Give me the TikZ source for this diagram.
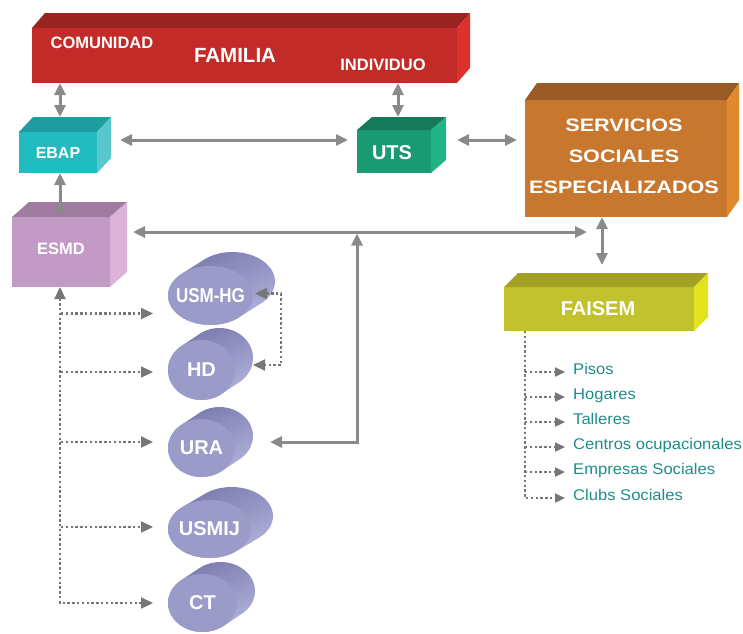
\documentclass[tikz,border=0pt]{standalone}
\usepackage{fontspec}
\setmainfont{Liberation Sans}
\usetikzlibrary{arrows.meta,calc,shapes.geometric}

\definecolor{famF}{HTML}{C22B27}
\definecolor{famT}{HTML}{982320}
\definecolor{famS}{HTML}{DC322B}
\definecolor{ebapF}{HTML}{22BCC0}
\definecolor{ebapT}{HTML}{1E9DA1}
\definecolor{ebapS}{HTML}{58C7CC}
\definecolor{utsF}{HTML}{1A9A72}
\definecolor{utsT}{HTML}{157A5A}
\definecolor{utsS}{HTML}{22B385}
\definecolor{sseF}{HTML}{C8772E}
\definecolor{sseT}{HTML}{995A26}
\definecolor{sseS}{HTML}{E0892D}
\definecolor{esmdF}{HTML}{C39AC5}
\definecolor{esmdT}{HTML}{A07CA0}
\definecolor{esmdS}{HTML}{DAB3D7}
\definecolor{faiF}{HTML}{C2C12E}
\definecolor{faiT}{HTML}{A2A124}
\definecolor{faiS}{HTML}{E2E21F}
\definecolor{blobF}{HTML}{9B9BCA}
\definecolor{blobD}{HTML}{7A7AAE}
\definecolor{blobL}{HTML}{B2B2DC}
\definecolor{linkgray}{HTML}{8A8A8A}
\definecolor{dotgray}{HTML}{767676}
\definecolor{itemteal}{HTML}{1F8C89}

\newcommand{\fsz}[1]{\fontsize{#1}{#1}\selectfont}

% top and right faces of a box whose front face is node #1
\newcommand{\boxfaces}[5]{%
  \fill[#4] (#1.north west) -- ++(#2,-#3) -- ($(#1.north east)+(#2,-#3)$) -- (#1.north east) -- cycle;
  \fill[#5] (#1.north east) -- ++(#2,-#3) -- ($(#1.south east)+(#2,-#3)$) -- (#1.south east) -- cycle;}

% extruded ellipse: name, centre x, centre y, x radius, y radius, depth x, depth y, label
\newcommand{\blob}[8]{%
  \shade[top color=blobD, bottom color=blobL, shading angle=25]
    foreach \k in {0,1,...,24} {({#2+\k*#6/24},{#3-\k*#7/24}) ellipse [x radius=#4pt, y radius=#5pt]};
  \node[blobface, minimum width={2*#4pt}, minimum height={2*#5pt}] (#1) at (#2,#3) {};
  \node[lbl, font=\bfseries\fsz{20}] (#1-t) at (#1) {#8};}

\begin{document}
\begin{tikzpicture}[x=1pt, y=-1pt,
  face/.style={inner sep=0pt, outer sep=0pt, draw=none},
  lbl/.style={text=white, inner sep=0pt, outer sep=0pt},
  blobface/.style={ellipse, fill=blobF, draw=none, inner sep=0pt, outer sep=0pt},
  item/.style={anchor=west, text=itemteal, font=\fsz{15.5}, inner sep=0pt,
               text height=0.72em, text depth=0.2em},
  link/.style={draw=linkgray, line width=3pt,
    arrows={Triangle[length=12pt,width=11pt]-Triangle[length=12pt,width=11pt]}},
  dot/.style={draw=dotgray, line width=2.2pt, dash pattern=on 2.4pt off 2.4pt},
  dotarr/.style={dot, -{Triangle[length=12pt,width=11pt]}},
  dotboth/.style={dot, {Triangle[length=12pt,width=11pt]}-{Triangle[length=12pt,width=11pt]}},
  dotsmall/.style={dot, -{Triangle[length=10pt,width=9pt]}}]

\useasboundingbox (0,0) rectangle (743,633);

% ---------- boxes ----------
\node[face, fill=famF, minimum width=425pt, minimum height=55pt] (fam) at (244.5,55.5) {};
\boxfaces{fam}{13}{15}{famT}{famS}
\node[lbl, font=\bfseries\fsz{16.5}] (comunidad) at (102,43) {COMUNIDAD};
\node[lbl, font=\bfseries\fsz{20.5}] (familia) at (235,55) {FAMILIA};
\node[lbl, font=\bfseries\fsz{16.5}] (individuo) at (383,65) {INDIVIDUO};

\node[face, fill=ebapF, minimum width=78pt, minimum height=41pt] (ebap) at (58,152.5) {};
\boxfaces{ebap}{14}{15}{ebapT}{ebapS}
\node[lbl, font=\bfseries\fsz{16}] (ebap-t) at (ebap) {EBAP};

\node[face, fill=utsF, minimum width=74pt, minimum height=43pt] (uts) at (394,151.5) {};
\boxfaces{uts}{15}{13}{utsT}{utsS}
\node[lbl, font=\bfseries\fsz{20}] (uts-t) at (392,153) {UTS};

\node[face, fill=sseF, minimum width=202pt, minimum height=117pt] (sse) at (626,158.5) {};
\boxfaces{sse}{12}{17}{sseT}{sseS}
\node[lbl, align=center, font=\bfseries\fontsize{18}{31}\selectfont] (sse-t) at (624,156)
  {\scalebox{1.2}[1]{SERVICIOS}\\\scalebox{1.2}[1]{SOCIALES}\\\scalebox{1.2}[1]{ESPECIALIZADOS}};

\node[face, fill=esmdF, minimum width=98pt, minimum height=70pt] (esmd) at (61,252) {};
\boxfaces{esmd}{17}{15}{esmdT}{esmdS}
\node[lbl, font=\bfseries\fsz{16.5}] (esmd-t) at (61,249) {ESMD};

\node[face, fill=faiF, minimum width=190pt, minimum height=44pt] (faisem) at (599,309) {};
\boxfaces{faisem}{14}{14}{faiT}{faiS}
\node[lbl, font=\bfseries\fsz{20}] (faisem-t) at (598,309) {FAISEM};

% ---------- units ----------
\blob{usmhg}{210.5}{295.5}{42.5}{29.5}{22}{14}{\scalebox{0.85}[1]{USM-HG}}
\blob{hd}{201.5}{370}{33.5}{30}{18}{12}{HD}
\blob{ura}{201.5}{448}{33.5}{29}{18}{12}{URA}
\blob{usmij}{209.5}{529}{41.5}{29}{22}{13}{USMIJ}
\blob{ct}{202.5}{603}{34.5}{29}{18}{12}{CT}

% ---------- FAISEM resources ----------
\node[item] (pisos)    at (573,372) {\scalebox{1.07}[1]{Pisos}};
\node[item] (hogares)  at (573,397) {\scalebox{1.07}[1]{Hogares}};
\node[item] (talleres) at (573,422) {\scalebox{1.07}[1]{Talleres}};
\node[item] (centros)  at (573,447) {\scalebox{1.07}[1]{Centros ocupacionales}};
\node[item] (empresas) at (573,472) {\scalebox{1.07}[1]{Empresas Sociales}};
\node[item] (clubs)    at (573,498) {\scalebox{1.07}[1]{Clubs Sociales}};

% ---------- solid links ----------
\coordinate (r140) at (0,140);
\coordinate (hub) at (602,232);
\coordinate (ujoin) at (357,233.5);

\draw[link] ($(fam.south -| ebap.north)+(2,0)$) -- ($(ebap.north)+(2,-15)$);
\draw[link] ($(fam.south -| uts.north)+(4,0)$) -- ($(uts.north)+(4,-13)$);
\draw[link] ($(ebap.east |- r140)+(23,0)$) -- ($(uts.west |- r140)+(-9,0)$);
\draw[link] ($(uts.east |- r140)+(26,0)$) -- ($(sse.west |- r140)+(-8,0)$);
\draw[link] ($(ebap.south)+(2,0)$) -- ($(esmd.north -| ebap.south)+(2,0)$);
\draw[link] ($(esmd.east |- hub)+(23,0)$) -- ($(hub)+(-15,0)$);
\draw[link] (sse.south -| hub) -- ($(faisem.north -| hub)+(0,-22)$);
\draw[link] ($(ura.east)+(35,-6)$) -| (ujoin);

% ---------- dotted links ----------
\draw[dotboth] ($(esmd.south)+(-1,0)$) -- ($(esmd.south |- ct.west)+(-1,0)$) -- ($(ct.west)+(-15,0)$);
\draw[dotarr] ($(esmd.south |- usmhg.west)+(0,18)$) -- ($(usmhg.west)+(-15,18)$);
\draw[dotarr] ($(esmd.south |- hd.west)+(0,2)$) -- ($(hd.west)+(-15,2)$);
\draw[dotarr] ($(esmd.south |- ura.west)+(0,-6)$) -- ($(ura.west)+(-15,-6)$);
\draw[dotarr] ($(esmd.south |- usmij.west)+(0,-2)$) -- ($(usmij.west)+(-15,-2)$);
\draw[dotboth] ($(usmhg.east)+(2,-2)$) -- ++(26,0) |- ($(hd.east)+(18,-5)$);

\coordinate (ft) at ($(faisem.south west)+(21,0)$);
\draw[dotsmall] (ft) -- (ft |- clubs.west) -- ($(clubs.west)+(-8,0)$);
\foreach \n in {pisos,hogares,talleres,centros,empresas}
  \draw[dotsmall] (ft |- \n.west) -- ($(\n.west)+(-8,0)$);
\end{tikzpicture}
\end{document}
